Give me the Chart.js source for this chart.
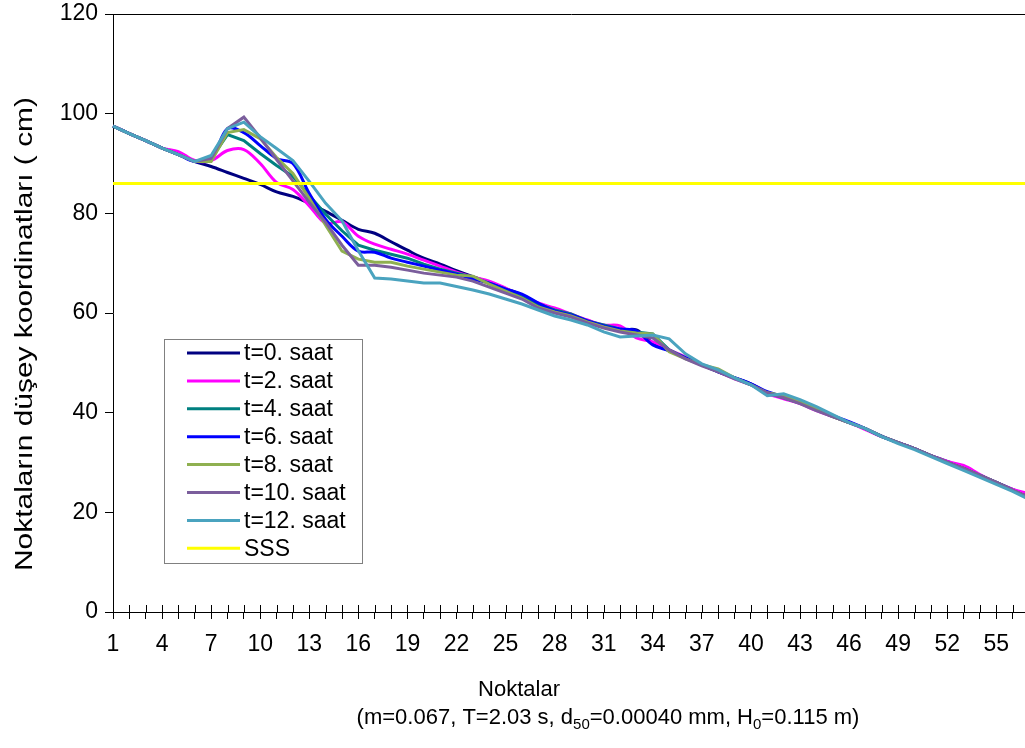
<!DOCTYPE html>
<html>
<head>
<meta charset="utf-8">
<script src="https://cdn.jsdelivr.net/npm/chart.js@4.4.1/dist/chart.umd.min.js"></script>
<style>
html, body { margin: 0; padding: 0; background: #fff; overflow: hidden; }
</style>
</head>
<body>
<canvas id="chart" width="1032" height="748"></canvas>
<script>
const noktalar = ['1','2','3','4','5','6','7','8','9','10','11','12','13','14','15','16','17','18','19','20',
    '21','22','23','24','25','26','27','28','29','30','31','32','33','34','35','36','37','38','39','40',
    '41','42','43','44','45','46','47','48','49','50','51','52','53','54','55','56','57'];

const t0 = [97.5, 96.0, 94.6, 93.1, 91.8, 90.4, 89.4, 88.2, 87.0, 85.8,
    84.3, 83.4, 82.0, 80.4, 78.6, 76.8, 76.0, 74.3, 72.6, 71.0,
    69.8, 68.5, 67.3, 66.2, 64.9, 63.6, 61.6, 60.4, 59.6, 58.5,
    57.4, 56.6, 56.6, 54.0, 52.4, 51.0, 49.6, 48.4, 47.0, 45.8,
    44.0, 43.0, 42.0, 40.6, 39.3, 38.0, 36.8, 35.3, 34.0, 32.8,
    31.4, 30.2, 28.8, 27.4, 26.0, 24.6, 23.2];
const t2 = [97.5, 96.0, 94.6, 93.1, 92.4, 90.6, 90.6, 92.6, 92.8, 90.0,
    86.2, 84.8, 81.5, 78.0, 78.3, 75.4, 73.8, 72.8, 71.8, 70.6,
    69.4, 68.2, 67.2, 66.4, 65.0, 63.4, 62.0, 61.0, 59.8, 58.6,
    57.6, 57.4, 55.0, 54.2, 52.6, 51.2, 49.6, 48.2, 46.8, 45.6,
    43.8, 42.8, 41.8, 40.4, 39.2, 38.0, 36.6, 35.2, 34.0, 32.8,
    31.4, 30.2, 29.4, 27.6, 26.0, 24.6, 23.8];
const t4 = [97.5, 96.0, 94.6, 93.1, 91.8, 90.4, 91.0, 95.8, 94.6, 92.0,
    89.6, 87.4, 83.6, 79.8, 76.5, 73.6, 72.6, 71.8, 71.0, 69.8,
    68.8, 68.0, 67.2, 66.0, 64.8, 63.2, 61.8, 60.6, 59.8, 58.4,
    57.6, 56.8, 56.2, 55.8, 52.6, 51.0, 49.6, 48.2, 47.0, 45.6,
    44.0, 43.0, 41.9, 40.6, 39.2, 38.0, 36.8, 35.2, 34.0, 32.8,
    31.4, 30.0, 28.8, 27.4, 26.0, 24.4, 23.0];
const t6 = [97.5, 96.0, 94.6, 93.1, 91.8, 90.4, 91.0, 97.0, 96.2, 93.6,
    91.0, 90.0, 84.0, 78.8, 75.4, 72.4, 72.2, 71.0, 70.2, 69.4,
    68.6, 67.8, 66.8, 66.0, 64.8, 63.8, 62.0, 60.4, 59.6, 58.4,
    57.4, 56.8, 56.4, 53.6, 52.4, 51.0, 49.6, 48.2, 47.0, 45.8,
    44.2, 43.2, 42.0, 40.6, 39.4, 38.2, 36.8, 35.2, 34.0, 32.8,
    31.4, 30.0, 28.8, 27.4, 26.0, 24.4, 23.0];
const t8 = [97.5, 96.0, 94.6, 93.1, 91.8, 90.4, 90.4, 96.2, 96.8, 95.0,
    91.2, 88.0, 83.0, 77.6, 72.4, 70.8, 70.2, 70.2, 69.4, 68.8,
    68.2, 67.6, 67.4, 65.8, 64.4, 63.0, 61.2, 60.2, 59.4, 58.2,
    57.2, 56.4, 56.0, 55.8, 52.2, 50.8, 49.6, 48.8, 47.0, 45.6,
    44.0, 43.4, 42.2, 40.8, 39.2, 38.0, 36.8, 35.2, 34.0, 32.8,
    31.4, 30.0, 28.8, 27.4, 26.0, 24.4, 23.0];
const t10 = [97.5, 96.0, 94.6, 93.1, 91.8, 90.4, 91.0, 97.0, 99.3, 95.2,
    90.8, 86.5, 82.2, 78.2, 73.6, 69.6, 69.6, 69.2, 68.6, 68.0,
    67.6, 67.2, 66.4, 65.2, 64.0, 62.8, 61.0, 60.0, 59.2, 58.0,
    57.0, 56.2, 55.6, 55.0, 52.6, 50.8, 49.4, 48.2, 46.8, 45.6,
    44.0, 43.0, 41.8, 40.4, 39.2, 38.0, 36.8, 35.2, 34.0, 32.8,
    31.4, 30.0, 28.8, 27.4, 26.0, 24.4, 23.0];
const t12 = [97.5, 96.0, 94.6, 93.1, 91.8, 90.4, 91.6, 97.0, 98.3, 95.4,
    93.0, 90.6, 86.4, 82.0, 78.5, 72.5, 67.0, 66.8, 66.4, 66.0,
    66.0, 65.3, 64.6, 63.8, 62.8, 61.8, 60.6, 59.4, 58.6, 57.6,
    56.2, 55.2, 55.4, 55.6, 54.8, 51.8, 49.8, 48.6, 47.0, 45.6,
    43.4, 43.8, 42.6, 41.2, 39.6, 38.0, 36.8, 35.2, 33.8, 32.6,
    31.2, 29.8, 28.4, 27.0, 25.6, 24.2, 22.6];
const sss = [86, 86, 86, 86, 86, 86, 86, 86, 86, 86, 86, 86, 86, 86, 86, 86, 86, 86, 86, 86,
    86, 86, 86, 86, 86, 86, 86, 86, 86, 86, 86, 86, 86, 86, 86, 86, 86, 86, 86, 86,
    86, 86, 86, 86, 86, 86, 86, 86, 86, 86, 86, 86, 86, 86, 86, 86, 86];

const seriesNames = ['t=0. saat', 't=2. saat', 't=4. saat', 't=6. saat', 't=8. saat', 't=10. saat', 't=12. saat', 'SSS'];
const seriesColors = ['#000080', '#FF00FF', '#008080', '#0000FF', '#8FB050', '#7B5E9C', '#4AA3BF', '#FFFF00'];
const seriesValues = [t0, t2, t4, t6, t8, t10, t12, sss];
const smoothSeries = [true, true, false, true, false, false, false, false];

const yTicks = [0, 20, 40, 60, 80, 100, 120];
const yTitle = 'Noktaların düşey koordinatları ( cm)';
const xTitle = 'Noktalar';
// second title line; true marks a subscript run
const xSubtitle = [['(m=0.067, T=2.03 s, d', false], ['50', true], ['=0.00040 mm, H', false], ['0', true], ['=0.115 m)', false]];

const FONT = '"Liberation Sans", Arial, sans-serif';

const extras = {
    id: 'extras',
    afterDraw(chart) {
        const {ctx, chartArea, scales} = chart;
        const x = scales.x;
        ctx.save();

        // upper half of the crossing tick marks on the x axis
        ctx.strokeStyle = '#000';
        ctx.lineWidth = 1;
        ctx.beginPath();
        x.ticks.forEach((t, i) => {
            const px = Math.round(x.getPixelForTick(i)) + 0.5;
            ctx.moveTo(px, chartArea.bottom - 7);
            ctx.lineTo(px, chartArea.bottom);
        });
        ctx.stroke();

        // legend box inside the plot
        const lx = 164, ly = 339, lw = 198, lh = 224;
        ctx.fillStyle = '#fff';
        ctx.fillRect(lx, ly, lw, lh);
        ctx.strokeStyle = '#808080';
        ctx.strokeRect(lx + 0.5, ly + 0.5, lw, lh);
        ctx.font = '23px ' + FONT;
        ctx.textBaseline = 'middle';
        ctx.textAlign = 'left';
        chart.data.datasets.forEach((ds, i) => {
            const y = 353 + i * 27.9;
            ctx.strokeStyle = ds.borderColor;
            ctx.lineWidth = 3;
            ctx.beginPath();
            ctx.moveTo(187, y);
            ctx.lineTo(240, y);
            ctx.stroke();
            ctx.fillStyle = '#000';
            ctx.fillText(ds.label, 244, y + 1);
        });

        // y axis title, stretched along its length like the original
        ctx.fillStyle = '#000';
        ctx.font = '23px ' + FONT;
        ctx.textAlign = 'center';
        ctx.textBaseline = 'middle';
        const natural = ctx.measureText(yTitle).width;
        ctx.save();
        ctx.translate(26, 334);
        ctx.rotate(-Math.PI / 2);
        ctx.scale(474 / natural, 1);
        ctx.fillText(yTitle, 0, 0);
        ctx.restore();

        // x axis title, two lines, second with subscripts
        ctx.textAlign = 'center';
        ctx.font = '22px ' + FONT;
        ctx.fillText(xTitle, 519, 690);

        const mainFont = '22px ' + FONT, subFont = '15px ' + FONT;
        let total = 0;
        xSubtitle.forEach(([txt, sub]) => {
            ctx.font = sub ? subFont : mainFont;
            total += ctx.measureText(txt).width;
        });
        let cx = 608 - total / 2;
        ctx.textAlign = 'left';
        ctx.textBaseline = 'alphabetic';
        xSubtitle.forEach(([txt, sub]) => {
            ctx.font = sub ? subFont : mainFont;
            ctx.fillText(txt, cx, sub ? 729 : 724);
            cx += ctx.measureText(txt).width;
        });
        ctx.restore();
    }
};

const datasets = seriesValues.map((vals, i) => ({
    label: seriesNames[i],
    data: vals,
    borderColor: seriesColors[i],
    backgroundColor: seriesColors[i],
    borderWidth: 3,
    pointRadius: 0,
    fill: false,
    tension: smoothSeries[i] ? 0.35 : 0,
    order: 7 - i
}));

new Chart(document.getElementById('chart').getContext('2d'), {
    type: 'line',
    data: { labels: noktalar, datasets: datasets },
    options: {
        responsive: false,
        animation: false,
        layout: { padding: { top: 14, left: 0, right: 3, bottom: 0 } },
        plugins: {
            legend: { display: false },
            tooltip: { enabled: false }
        },
        scales: {
            x: {
                type: 'category',
                offset: false,
                afterFit: s => { s.height = 136; s.paddingLeft = 0; s.paddingRight = 0; },
                border: { display: true, color: '#000', width: 1 },
                grid: { display: true, drawOnChartArea: false, tickLength: 7, tickColor: '#000', color: '#000' },
                ticks: {
                    autoSkip: false,
                    maxRotation: 0,
                    padding: 12,
                    color: '#000',
                    font: { family: FONT, size: 23 },
                    callback: (v, i) => (i % 3 === 0 ? noktalar[i] : '')
                }
            },
            y: {
                min: yTicks[0],
                max: yTicks[yTicks.length - 1],
                afterFit: s => { s.width = 113; s.paddingTop = 0; s.paddingBottom = 0; },
                afterBuildTicks: s => { s.ticks = yTicks.map(v => ({ value: v })); },
                border: { display: true, color: '#000', width: 1 },
                grid: {
                    color: c => (c.tick && c.tick.value === 120 ? '#000' : 'rgba(0,0,0,0)'),
                    tickColor: '#000',
                    tickLength: 8
                },
                ticks: {
                    padding: 7,
                    color: '#000',
                    font: { family: FONT, size: 23 }
                },
                title: { display: false }
            }
        }
    },
    plugins: [extras]
});
</script>
</body>
</html>
